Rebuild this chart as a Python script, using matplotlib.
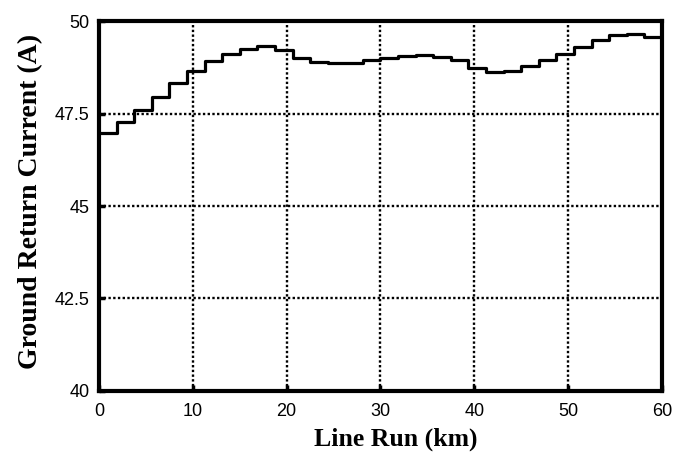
import numpy as np
import matplotlib.pyplot as plt

# one level per 1.875 km section of the line
seg_km = 1.875
levels = [46.98, 47.28, 47.61, 47.95, 48.34, 48.66, 48.93, 49.13,
          49.26, 49.33, 49.23, 49.01, 48.90, 48.87, 48.88, 48.95,
          49.00, 49.05, 49.09, 49.04, 48.95, 48.75, 48.64, 48.66,
          48.78, 48.95, 49.13, 49.31, 49.49, 49.62, 49.67, 49.59]
xticks = [0, 10, 20, 30, 40, 50, 60]
yticks = [40, 42.5, 45, 47.5, 50]
ytick_labels = ['40', '42.5', '45', '47.5', '50']

x = np.arange(len(levels) + 1) * seg_km
y = levels + [levels[-1]]

fig = plt.figure(figsize=(6.74, 4.55), dpi=100)
ax = fig.add_axes([0.147, 0.141, 0.835, 0.812])

ax.step(x, y, where='post', color='black', linewidth=2.3)

ax.set_xlim(0, 60)
ax.set_ylim(40, 50)
ax.set_xticks(xticks)
ax.set_yticks(yticks)
ax.set_yticklabels(ytick_labels)
ax.grid(True, color='black', linestyle=(0, (1, 1)), linewidth=1.7)
ax.tick_params(direction='in', length=4, width=2.5, labelsize=13)
ax.tick_params(axis='x', pad=9)
ax.tick_params(axis='y', pad=7)
for lab in ax.get_xticklabels() + ax.get_yticklabels():
    lab.set_fontfamily('Liberation Sans')
for s in ax.spines.values():
    s.set_linewidth(3)

ax.set_xlabel('Line Run (km)', fontfamily='Liberation Serif', fontweight='bold', fontsize=18.5)
ax.set_ylabel('Ground Return Current (A)', fontfamily='Liberation Serif', fontweight='bold', fontsize=20)
ax.xaxis.set_label_coords(0.527, -0.100)
ax.yaxis.set_label_coords(-0.100, 0.514)

fig.savefig('out.png', dpi=100)
